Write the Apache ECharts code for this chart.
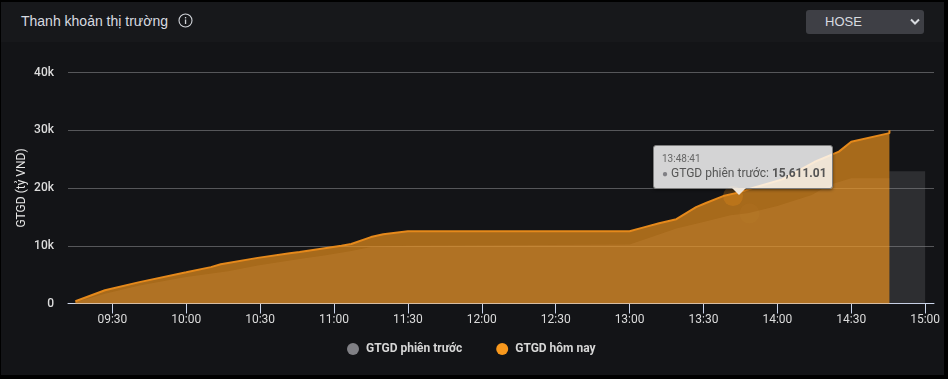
<!DOCTYPE html>
<html>
<head>
<meta charset="utf-8">
<title>Thanh khoản thị trường</title>
<script src="https://cdn.jsdelivr.net/npm/echarts@6/dist/echarts.min.js"></script>
<style>
  html, body { margin: 0; padding: 0; width: 948px; height: 379px; background: #000; overflow: hidden; }
  .panel { position: absolute; left: 1px; top: 2px; width: 943px; height: 373px; background: #131417; }
  .head { position: absolute; left: 0; top: 0; width: 100%; height: 40px; background: #17181b; }
  .title { position: absolute; left: 20px; top: 11px; color: #d8dbe0; font: 14px "Liberation Sans", Arial, sans-serif; }
  .info { position: absolute; left: 177px; top: 11px; }
  .picker { position: absolute; left: 805px; top: 8px; width: 118px; height: 24px; border-radius: 3px; background: #3e3f45; color: #d8dbe0; font: 13px/24px "Liberation Sans", Arial, sans-serif; }
  .picker span { position: absolute; left: 19px; }
  .picker svg { position: absolute; right: 4px; top: 8px; }
  #chart { position: absolute; left: 0; top: 0; width: 948px; height: 379px; }
</style>
</head>
<body>
<div class="panel">
  <div class="head">
    <div class="title">Thanh khoản thị trường</div>
    <svg class="info" width="15" height="15" viewBox="0 0 15 15">
      <circle cx="7.5" cy="7.5" r="6.5" fill="none" stroke="#d0d3d8" stroke-width="1.1"/>
      <rect x="6.9" y="6.5" width="1.3" height="4.5" fill="#d0d3d8"/>
      <rect x="6.9" y="4" width="1.3" height="1.4" fill="#d0d3d8"/>
    </svg>
    <div class="picker"><span>HOSE</span>
      <svg width="10" height="8" viewBox="0 0 10 8"><path d="M1 1.5 L5 5.5 L9 1.5" fill="none" stroke="#d8dbe0" stroke-width="2"/></svg>
    </div>
  </div>
</div>
<div id="chart"></div>

<script>
// Thoi gian va gia tri doc tu hinh
const todayTimes = ['09:15','09:27','09:41','10:00','10:10','10:14','10:29','10:42','10:46','11:03','11:07','11:15','11:20','11:30','13:00','13:05','13:12','13:19','13:27','13:31','13:38','13:44','13:50','14:02','14:15','14:25','14:30','14:45:30','14:45:30']
const todayValues = [400,2300,3700,5400,6300,6800,7900,8700,8900,10000,10300,11500,12000,12500,12500,13100,13900,14600,16700,17400,18600,19200,20000,21500,24500,26300,28000,29500,30000]

const prevTimes = ['09:15','09:27','09:41','10:00','10:17','10:29','10:46','10:56','11:07','11:15','11:30','13:00','13:09','13:19','13:30','13:41','13:48','14:00','14:14','14:21','14:30','14:45:30','14:45:30','15:00']
const prevValues = [200,1700,3100,4600,5600,6600,7700,8300,9100,9800,10000,10200,11500,13000,14100,15300,15611,16900,18800,20500,21700,21700,22900,22900]

const hoverTimes = ['13:42','13:48:41']
const hoverValues = [18600,15611]

const xTicks = ['09:30','10:00','10:30','11:00','11:30','12:00','12:30','13:00','13:30','14:00','14:30','15:00']
const yTicks = [0,10000,20000,30000,40000]

// doi gio sang so phut trong ngay
const toMinutes = (t) => {
  const p = t.split(':').map(Number)
  return p[0] * 60 + p[1] + (p[2] || 0) / 60
}
const toLabel = (m) => {
  const h = Math.floor(m / 60)
  const mm = Math.round(m - h * 60)
  return String(h).padStart(2, '0') + ':' + String(mm).padStart(2, '0')
}
const pairs = (times, values) => times.map((t, i) => [toMinutes(t), values[i]])

const labelFont = 'Roboto, "Liberation Sans", sans-serif'

const chart = echarts.init(document.getElementById('chart'))
chart.setOption({
  animation: false,
  backgroundColor: 'transparent',
  textStyle: { fontFamily: labelFont },
  grid: { left: 68, right: 14, top: 72.5, bottom: 75.5 },
  legend: {
    bottom: 19,
    left: 342,
    icon: 'circle',
    itemWidth: 12,
    itemHeight: 12,
    itemGap: 34,
    selectedMode: false,
    textStyle: { color: '#d6d6d6', fontSize: 12, fontWeight: 'bold', fontFamily: labelFont, padding: [0, 0, 0, 2] },
    data: ['GTGD phiên trước', 'GTGD hôm nay']
  },
  tooltip: {
    trigger: 'item',
    alwaysShowContent: true,
    showContent: true,
    transitionDuration: 0,
    padding: [6, 8, 6, 8],
    backgroundColor: 'rgba(255,255,255,0.82)',
    borderColor: '#7d7d7d',
    borderWidth: 1,
    borderRadius: 3,
    extraCssText: 'box-shadow:0 1px 3px rgba(0,0,0,.5);width:162px;',
    textStyle: { color: '#555', fontSize: 12, fontFamily: labelFont },
    position: () => [653, 145],
    formatter: () => '<div style="font-size:10px;line-height:13px;color:#666">13:48:41</div>'
      + '<div style="line-height:16px;white-space:nowrap"><span style="color:#808085;font-size:10px">●</span> GTGD phiên trước: <b>15,611.01</b></div>'
      + '<div style="position:absolute;left:78px;bottom:-7px;width:0;height:0;border-left:7px solid transparent;border-right:7px solid transparent;border-top:7px solid #efe6da"></div>'
  },
  xAxis: {
    type: 'value',
    min: 552,
    max: 903.6,
    splitLine: { show: false },
    axisLine: { show: true, onZero: false, lineStyle: { color: '#ccd6eb' } },
    axisTick: { show: true, length: 10, customValues: xTicks.map(toMinutes), lineStyle: { color: '#ccd6eb' } },
    axisLabel: {
      customValues: xTicks.map(toMinutes),
      formatter: (v) => toLabel(v),
      color: '#dcdcdc',
      fontSize: 12,
      margin: 10
    }
  },
  yAxis: {
    type: 'value',
    min: 0,
    max: 40000,
    interval: 10000,
    name: 'GTGD (tỷ VND)',
    nameLocation: 'middle',
    nameGap: 40,
    nameMoveOverlap: false,
    nameTextStyle: { color: '#e6e6e6', fontSize: 12, fontFamily: labelFont },
    axisLine: { show: false },
    axisTick: { show: false },
    axisLabel: {
      color: '#dcdcdc',
      fontSize: 12,
      fontWeight: 500,
      margin: 14,
      formatter: (v) => (yTicks.includes(v) && v > 0 ? v / 1000 + 'k' : '0')
    },
    splitLine: { lineStyle: { color: '#56575a', width: 1 } }
  },
  series: [
    {
      name: 'GTGD phiên trước',
      type: 'line',
      data: pairs(prevTimes, prevValues),
      showSymbol: false,
      silent: true,
      itemStyle: { color: '#808085' },
      lineStyle: { width: 0 },
      areaStyle: { color: '#808085', opacity: 0.24 }
    },
    {
      name: 'GTGD hôm nay',
      type: 'line',
      data: pairs(todayTimes, todayValues),
      showSymbol: false,
      silent: true,
      itemStyle: { color: '#f8981d' },
      lineStyle: { width: 2, color: '#e5891b' },
      areaStyle: { color: '#f8981d', opacity: 0.65 }
    },
    {
      name: 'hover',
      type: 'scatter',
      symbolSize: 20,
      data: [
        { value: pairs(hoverTimes, hoverValues)[0], itemStyle: { color: '#c87a18', opacity: 0.3 } },
        { value: pairs(hoverTimes, hoverValues)[1], itemStyle: { color: '#808085', opacity: 0.08 } }
      ]
    }
  ]
})

chart.dispatchAction({ type: 'showTip', seriesIndex: 2, dataIndex: 1 })

window.addEventListener('resize', () => chart.resize())
</script>
</body>
</html>
